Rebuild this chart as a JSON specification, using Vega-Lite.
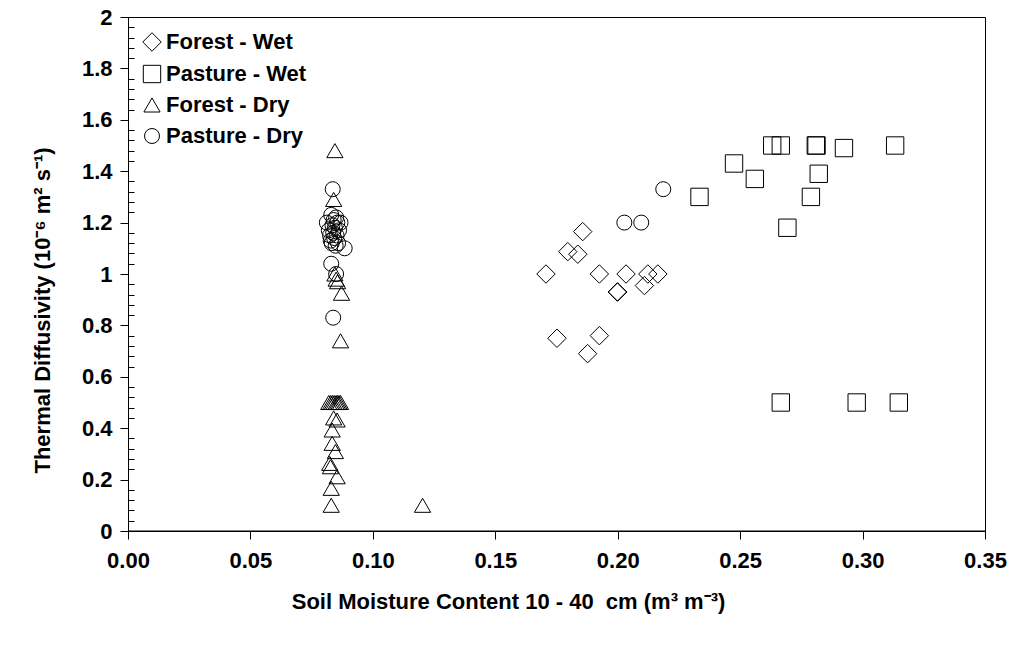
{
  "$schema": "https://vega.github.io/schema/vega-lite/v6.json",
  "width": 857,
  "height": 514,
  "autosize": {"type": "none"},
  "padding": {"left": 128, "top": 17, "right": 30, "bottom": 115},
  "background": "white",
  "config": {
    "font": "Liberation Sans",
    "view": {"stroke": "black", "strokeWidth": 1},
    "axis": {"grid": false, "domainColor": "black", "tickColor": "black", "labelColor": "black", "titleColor": "black"}
  },
  "data": {
    "values": [
      {"site": "Forest - Wet", "moisture": 0.1857, "diffusivity": 1.165},
      {"site": "Forest - Wet", "moisture": 0.1796, "diffusivity": 1.087},
      {"site": "Forest - Wet", "moisture": 0.1837, "diffusivity": 1.077},
      {"site": "Forest - Wet", "moisture": 0.1707, "diffusivity": 1.0},
      {"site": "Forest - Wet", "moisture": 0.1925, "diffusivity": 1.0},
      {"site": "Forest - Wet", "moisture": 0.2034, "diffusivity": 1.0},
      {"site": "Forest - Wet", "moisture": 0.2123, "diffusivity": 1.0},
      {"site": "Forest - Wet", "moisture": 0.2164, "diffusivity": 1.0},
      {"site": "Forest - Wet", "moisture": 0.2109, "diffusivity": 0.955},
      {"site": "Forest - Wet", "moisture": 0.2, "diffusivity": 0.93},
      {"site": "Forest - Wet", "moisture": 0.1998, "diffusivity": 0.93},
      {"site": "Forest - Wet", "moisture": 0.1752, "diffusivity": 0.75},
      {"site": "Forest - Wet", "moisture": 0.1925, "diffusivity": 0.76},
      {"site": "Forest - Wet", "moisture": 0.1877, "diffusivity": 0.69},

      {"site": "Pasture - Wet", "moisture": 0.2334, "diffusivity": 1.3},
      {"site": "Pasture - Wet", "moisture": 0.2475, "diffusivity": 1.43},
      {"site": "Pasture - Wet", "moisture": 0.256, "diffusivity": 1.37},
      {"site": "Pasture - Wet", "moisture": 0.2631, "diffusivity": 1.5},
      {"site": "Pasture - Wet", "moisture": 0.2666, "diffusivity": 1.5},
      {"site": "Pasture - Wet", "moisture": 0.2693, "diffusivity": 1.18},
      {"site": "Pasture - Wet", "moisture": 0.2789, "diffusivity": 1.3},
      {"site": "Pasture - Wet", "moisture": 0.2809, "diffusivity": 1.5},
      {"site": "Pasture - Wet", "moisture": 0.2812, "diffusivity": 1.5},
      {"site": "Pasture - Wet", "moisture": 0.2821, "diffusivity": 1.39},
      {"site": "Pasture - Wet", "moisture": 0.2924, "diffusivity": 1.49},
      {"site": "Pasture - Wet", "moisture": 0.3133, "diffusivity": 1.5},
      {"site": "Pasture - Wet", "moisture": 0.2666, "diffusivity": 0.5},
      {"site": "Pasture - Wet", "moisture": 0.2976, "diffusivity": 0.5},
      {"site": "Pasture - Wet", "moisture": 0.3148, "diffusivity": 0.5},

      {"site": "Forest - Dry", "moisture": 0.0845, "diffusivity": 1.48},
      {"site": "Forest - Dry", "moisture": 0.084, "diffusivity": 1.29},
      {"site": "Forest - Dry", "moisture": 0.0845, "diffusivity": 1.0},
      {"site": "Forest - Dry", "moisture": 0.085, "diffusivity": 0.98},
      {"site": "Forest - Dry", "moisture": 0.0856, "diffusivity": 0.97},
      {"site": "Forest - Dry", "moisture": 0.0872, "diffusivity": 0.925},
      {"site": "Forest - Dry", "moisture": 0.0868, "diffusivity": 0.74},
      {"site": "Forest - Dry", "moisture": 0.082, "diffusivity": 0.5},
      {"site": "Forest - Dry", "moisture": 0.0828, "diffusivity": 0.5},
      {"site": "Forest - Dry", "moisture": 0.0835, "diffusivity": 0.5},
      {"site": "Forest - Dry", "moisture": 0.0842, "diffusivity": 0.5},
      {"site": "Forest - Dry", "moisture": 0.085, "diffusivity": 0.5},
      {"site": "Forest - Dry", "moisture": 0.0856, "diffusivity": 0.5},
      {"site": "Forest - Dry", "moisture": 0.0862, "diffusivity": 0.5},
      {"site": "Forest - Dry", "moisture": 0.0868, "diffusivity": 0.5},
      {"site": "Forest - Dry", "moisture": 0.084, "diffusivity": 0.44},
      {"site": "Forest - Dry", "moisture": 0.0854, "diffusivity": 0.432},
      {"site": "Forest - Dry", "moisture": 0.0834, "diffusivity": 0.393},
      {"site": "Forest - Dry", "moisture": 0.0834, "diffusivity": 0.341},
      {"site": "Forest - Dry", "moisture": 0.0847, "diffusivity": 0.309},
      {"site": "Forest - Dry", "moisture": 0.0824, "diffusivity": 0.263},
      {"site": "Forest - Dry", "moisture": 0.0827, "diffusivity": 0.25},
      {"site": "Forest - Dry", "moisture": 0.0854, "diffusivity": 0.211},
      {"site": "Forest - Dry", "moisture": 0.083, "diffusivity": 0.166},
      {"site": "Forest - Dry", "moisture": 0.083, "diffusivity": 0.1},
      {"site": "Forest - Dry", "moisture": 0.1203, "diffusivity": 0.1},

      {"site": "Pasture - Dry", "moisture": 0.0836, "diffusivity": 1.33},
      {"site": "Pasture - Dry", "moisture": 0.083, "diffusivity": 1.23},
      {"site": "Pasture - Dry", "moisture": 0.0812, "diffusivity": 1.2},
      {"site": "Pasture - Dry", "moisture": 0.082, "diffusivity": 1.17},
      {"site": "Pasture - Dry", "moisture": 0.0825, "diffusivity": 1.15},
      {"site": "Pasture - Dry", "moisture": 0.0828, "diffusivity": 1.13},
      {"site": "Pasture - Dry", "moisture": 0.0832, "diffusivity": 1.12},
      {"site": "Pasture - Dry", "moisture": 0.0835, "diffusivity": 1.19},
      {"site": "Pasture - Dry", "moisture": 0.0838, "diffusivity": 1.16},
      {"site": "Pasture - Dry", "moisture": 0.084, "diffusivity": 1.21},
      {"site": "Pasture - Dry", "moisture": 0.0842, "diffusivity": 1.14},
      {"site": "Pasture - Dry", "moisture": 0.0845, "diffusivity": 1.18},
      {"site": "Pasture - Dry", "moisture": 0.0848, "diffusivity": 1.11},
      {"site": "Pasture - Dry", "moisture": 0.085, "diffusivity": 1.22},
      {"site": "Pasture - Dry", "moisture": 0.0852, "diffusivity": 1.15},
      {"site": "Pasture - Dry", "moisture": 0.0855, "diffusivity": 1.2},
      {"site": "Pasture - Dry", "moisture": 0.0858, "diffusivity": 1.12},
      {"site": "Pasture - Dry", "moisture": 0.0862, "diffusivity": 1.17},
      {"site": "Pasture - Dry", "moisture": 0.0868, "diffusivity": 1.2},
      {"site": "Pasture - Dry", "moisture": 0.0885, "diffusivity": 1.1},
      {"site": "Pasture - Dry", "moisture": 0.083, "diffusivity": 1.04},
      {"site": "Pasture - Dry", "moisture": 0.085, "diffusivity": 1.0},
      {"site": "Pasture - Dry", "moisture": 0.0838, "diffusivity": 0.83},
      {"site": "Pasture - Dry", "moisture": 0.2027, "diffusivity": 1.2},
      {"site": "Pasture - Dry", "moisture": 0.2096, "diffusivity": 1.2},
      {"site": "Pasture - Dry", "moisture": 0.2186, "diffusivity": 1.33}
    ]
  },
  "layer": [
    {
      "mark": {"type": "point", "filled": false, "stroke": "black", "strokeWidth": 1, "opacity": 1},
      "encoding": {
        "x": {
          "field": "moisture",
          "type": "quantitative",
          "scale": {"domain": [0, 0.35], "nice": false, "zero": false},
          "axis": {
            "values": [0, 0.05, 0.1, 0.15, 0.2, 0.25, 0.3, 0.35],
            "format": ".2f",
            "labelFont": "Liberation Sans",
            "labelFontSize": 22,
            "labelFontWeight": "bold",
            "labelPadding": 11,
            "labelFlush": false,
            "labelOverlap": false,
            "tickSize": 8,
            "title": "Soil Moisture Content 10 - 40\u00a0 cm (m³ m⁻³)",
            "titleFont": "Liberation Sans",
            "titleFontSize": 22,
            "titleFontWeight": "bold",
            "titleX": 380,
            "titleY": 70,
            "titleAlign": "center",
            "titleBaseline": "middle"
          }
        },
        "y": {
          "field": "diffusivity",
          "type": "quantitative",
          "scale": {"domain": [0, 2], "nice": false, "zero": false},
          "axis": {
            "values": [0, 0.2, 0.4, 0.6, 0.8, 1, 1.2, 1.4, 1.6, 1.8, 2],
            "format": "~g",
            "tickSize": 8,
            "labelFont": "Liberation Sans",
            "labelFontSize": 22,
            "labelFontWeight": "bold",
            "labelPadding": 8,
            "labelFlush": false,
            "labelOverlap": false,
            "title": "Thermal Diffusivity (10⁻⁶ m² s⁻¹)",
            "titleFont": "Liberation Sans",
            "titleFontSize": 22,
            "titleFontWeight": "bold",
            "titleAngle": -90,
            "titleX": -86,
            "titleY": 293,
            "titleAlign": "center",
            "titleBaseline": "middle"
          }
        },
        "shape": {
          "field": "site",
          "type": "nominal",
          "scale": {
            "domain": ["Forest - Wet", "Pasture - Wet", "Forest - Dry", "Pasture - Dry"],
            "range": ["diamond", "square", "triangle-up", "circle"]
          },
          "legend": {
            "orient": "none",
            "legendX": 13,
            "legendY": 14,
            "title": null,
            "padding": 0,
            "labelFont": "Liberation Sans",
            "labelFontSize": 22,
            "labelFontWeight": "bold",
            "labelColor": "black",
            "labelOffset": 3,
            "rowPadding": 9,
            "symbolStrokeColor": "black",
            "symbolStrokeWidth": 1,
            "symbolFillColor": "transparent"
          }
        },
        "size": {
          "field": "site",
          "type": "nominal",
          "scale": {
            "domain": ["Forest - Wet", "Pasture - Wet", "Forest - Dry", "Pasture - Dry"],
            "range": [340, 225, 240, 240]
          }
        }
      }
    },
    {
      "data": {"values": [{"base": 0}]},
      "mark": {"type": "rule", "color": "black", "strokeWidth": 1},
      "encoding": {
        "y": {
          "field": "base",
          "type": "quantitative",
          "axis": {
            "orient": "right",
            "offset": -857,
            "values": [0.04, 0.08, 0.12, 0.16, 0.24, 0.28, 0.32, 0.36, 0.44, 0.48, 0.52, 0.56, 0.64, 0.68, 0.72, 0.76, 0.84, 0.88, 0.92, 0.96, 1.04, 1.08, 1.12, 1.16, 1.24, 1.28, 1.32, 1.36, 1.44, 1.48, 1.52, 1.56, 1.64, 1.68, 1.72, 1.76, 1.84, 1.88, 1.92, 1.96],
            "labels": false,
            "domain": false,
            "ticks": true,
            "tickSize": 6,
            "title": null,
            "grid": false
          }
        }
      }
    }
  ],
  "resolve": {"axis": {"y": "independent"}}
}
